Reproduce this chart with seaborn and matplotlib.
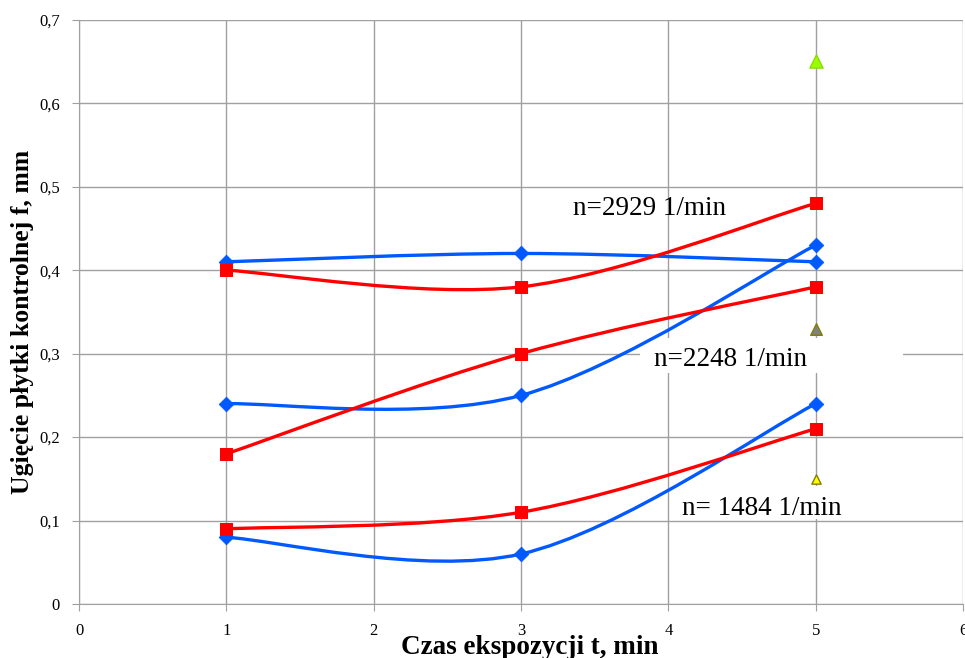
import numpy as np
import pandas as pd
import matplotlib
matplotlib.use("Agg")
import matplotlib.pyplot as plt
from matplotlib.path import Path
from matplotlib.patches import PathPatch, Rectangle
import seaborn as sns

# data
czas = [1, 3, 5]
blue_2929 = [0.41, 0.42, 0.41]
blue_2248 = [0.24, 0.25, 0.43]
blue_1484 = [0.08, 0.06, 0.24]
red_2929 = [0.40, 0.38, 0.48]
red_2248 = [0.18, 0.30, 0.38]
red_1484 = [0.09, 0.11, 0.21]
tri_x = [5, 5, 5]
tri_y = [0.65, 0.33, 0.15]
tri_face = ["#99ff00", "#808080", "#ffff00"]
tri_edge = ["#88dd00", "#808000", "#808000"]
labels = ["n=2929 1/min", "n=2248 1/min", "n= 1484 1/min"]
label_x = [3.35, 3.90, 4.09]
label_y = [0.474, 0.293, 0.115]

BLUE = "#0059ff"
RED = "#ff0000"

sns.set_style("white")
plt.rcParams['font.family'] = ['Liberation Serif', 'DejaVu Serif']
plt.rcParams['text.color'] = 'black'


def smooth_path(x, y):
    # excel-like smoothed line (catmull-rom as bezier)
    pts = np.column_stack([x, y]).astype(float)
    ext = np.vstack([pts[0], pts, pts[-1]])
    verts = [pts[0]]
    codes = [Path.MOVETO]
    for i in range(1, len(ext) - 2):
        p0, p1, p2, p3 = ext[i - 1], ext[i], ext[i + 1], ext[i + 2]
        c1 = p1 + (p2 - p0) / 6
        c2 = p2 - (p3 - p1) / 6
        verts += [c1, c2, p2]
        codes += [Path.CURVE4] * 3
    return Path(verts, codes)


fig = plt.figure(figsize=(9.65, 6.58), dpi=100)
ax = fig.add_axes([0.082, 0.082, 0.916, 0.888])

# white text boxes (hide the grid behind two of the labels)
ax.add_patch(Rectangle((3.81, 0.277), 1.78, 0.042, facecolor="white", edgecolor="none", zorder=1.5))
ax.add_patch(Rectangle((4.01, 0.102), 1.67, 0.040, facecolor="white", edgecolor="none", zorder=1.5))

for ys in [blue_2929, blue_2248, blue_1484]:
    ax.add_patch(PathPatch(smooth_path(czas, ys), fill=False, edgecolor=BLUE, lw=2.4, zorder=3))
for ys in [red_2929, red_2248, red_1484]:
    ax.add_patch(PathPatch(smooth_path(czas, ys), fill=False, edgecolor=RED, lw=2.4, zorder=4))

blue_df = pd.DataFrame({"t": czas * 3, "f": blue_2929 + blue_2248 + blue_1484})
red_df = pd.DataFrame({"t": czas * 3, "f": red_2929 + red_2248 + red_1484})
sns.scatterplot(data=blue_df, x="t", y="f", marker="D", s=55, color=BLUE,
                edgecolor=BLUE, ax=ax, zorder=5)
sns.scatterplot(data=red_df, x="t", y="f", marker="s", s=80, color=RED,
                edgecolor=RED, ax=ax, zorder=6)
for xx, yy, fc, ec, sz in zip(tri_x, tri_y, tri_face, tri_edge, [90, 70, 45]):
    ax.scatter([xx], [yy], marker="^", s=sz, color=fc, edgecolor=ec, linewidth=1, zorder=6)

for txt, xx, yy in zip(labels, label_x, label_y):
    ax.text(xx, yy, txt, fontsize=19.5, va="center", ha="left", color="black", zorder=7)

ax.set_xlim(0, 6)
ax.set_ylim(0, 0.7)
ax.set_xticks(range(0, 7))
ax.set_yticks(np.arange(0, 0.71, 0.1))
ax.set_yticklabels([f"{v:.1f}".replace(".", ",") if v > 0 else "0" for v in np.arange(0, 0.71, 0.1)])
ax.grid(True, color="#a0a0a0", lw=1)
ax.set_axisbelow(True)
for side in ["top", "right"]:
    ax.spines[side].set_visible(False)
for side in ["left", "bottom"]:
    ax.spines[side].set_color("#a0a0a0")
ax.tick_params(axis="both", labelsize=12, length=5, color="#a0a0a0", labelcolor="black",
               direction="out", pad=9)
ax.tick_params(axis="both", which="both", bottom=True, left=True)
ax.set_xlabel("Czas ekspozycji t, min", fontsize=19.5, fontweight="bold", color="black")
ax.set_ylabel("Ugięcie płytki kontrolnej f, mm", fontsize=18.5, fontweight="bold", color="black")
ax.xaxis.set_label_coords(0.51, -0.053)
ax.yaxis.set_label_coords(-0.051, 0.483)

fig.savefig("out.png", dpi=100)
